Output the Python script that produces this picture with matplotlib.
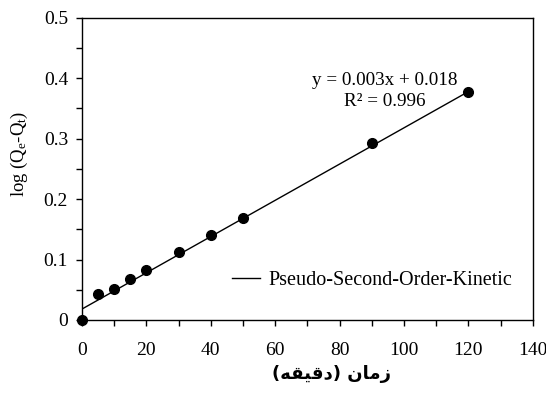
import numpy as np
import matplotlib
matplotlib.use('Agg')
from matplotlib import pyplot as plt
from matplotlib.ticker import MultipleLocator

# dados
tempo = [0, 5, 10, 15, 20, 30, 40, 50, 90, 120]
log_q = [0.0, 0.043, 0.051, 0.068, 0.083, 0.112, 0.140, 0.169, 0.293, 0.378]
coef_a = 0.003
coef_b = 0.018
x_ticks = [0, 20, 40, 60, 80, 100, 120, 140]
y_ticks = [0, 0.1, 0.2, 0.3, 0.4, 0.5]
y_ticklabels = ['0', '0.1', '0.2', '0.3', '0.4', '0.5']

plt.rcParams['font.family'] = ['Liberation Serif', 'DejaVu Serif']
plt.rcParams['mathtext.fontset'] = 'custom'
plt.rcParams['mathtext.rm'] = 'Liberation Serif'
plt.rcParams['mathtext.it'] = 'Liberation Serif:italic'

fig = plt.figure(figsize=(5.46, 3.96), dpi=100)
ax = fig.add_axes([0.150, 0.192, 0.826, 0.763])

# reta ajustada
xr = np.array([0, max(tempo)])
ax.plot(xr, coef_a * xr + coef_b, color='black', lw=1.0,
        label='Pseudo-Second-Order-Kinetic')
ax.plot(tempo, log_q, 'o', color='black', ms=7, zorder=3, clip_on=False)

ax.set_xlim(0, 140)
ax.set_ylim(0, 0.5)
ax.set_xticks(x_ticks)
ax.set_yticks(y_ticks)
ax.set_yticklabels(y_ticklabels)
ax.xaxis.set_minor_locator(MultipleLocator(10))
ax.yaxis.set_minor_locator(MultipleLocator(0.05))
ax.tick_params(which='both', direction='out', length=4, width=1, labelsize=14, colors='black')
ax.tick_params(axis='x', pad=12)
ax.tick_params(axis='y', pad=6)
for s in ax.spines.values():
    s.set_linewidth(1)

ax.set_ylabel(r'log (Q$_\mathrm{e}$-Q$_\mathrm{t}$)', fontsize=13.5)
ax.yaxis.set_label_coords(-0.115, 0.55)

# rotulo em persa, ja em formas de apresentacao e ordem visual
rotulo = '(\uFEEA\uFED8\uFEF4\uFED7\uFEA9) \uFEE5\uFE8E\uFEE3\uFEAF'
ax.set_xlabel(rotulo, fontsize=13, fontweight='bold', family=['DejaVu Sans'])
ax.xaxis.set_label_coords(0.554, -0.15)

ax.text(94, 0.397, 'y = 0.003x + 0.018', ha='center', va='center', fontsize=13.8)
ax.text(94, 0.362, 'R² = 0.996', ha='center', va='center', fontsize=13.8)

ax.legend(loc='center right', bbox_to_anchor=(0.995, 0.132), frameon=False,
          fontsize=14.5, handlelength=1.4, handletextpad=0.45)

plt.savefig('out.png', dpi=100)
